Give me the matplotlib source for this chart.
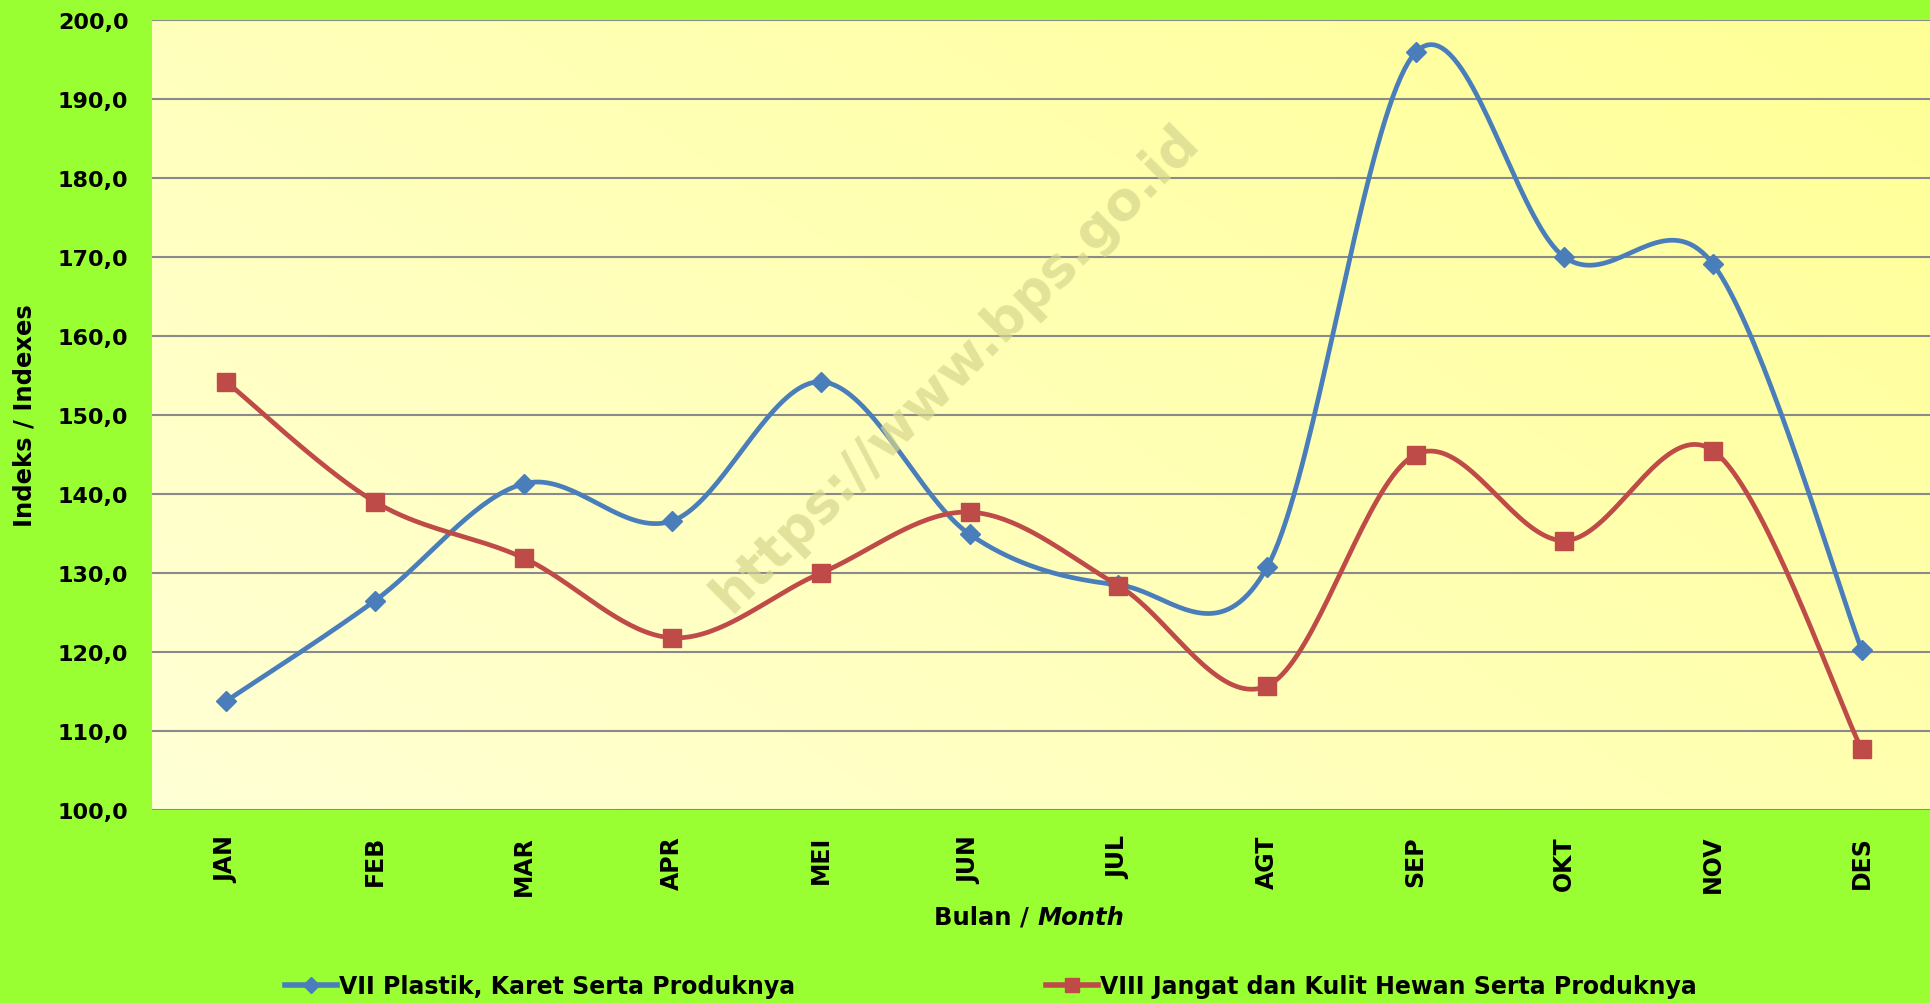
import numpy as np
import matplotlib
matplotlib.use('Agg')
import matplotlib.pyplot as plt
from matplotlib.lines import Line2D

months = ['JAN', 'FEB', 'MAR', 'APR', 'MEI', 'JUN', 'JUL', 'AGT', 'SEP', 'OKT', 'NOV', 'DES']
plastik = [113.8, 126.5, 141.3, 136.6, 154.2, 134.9, 128.5, 130.7, 195.9, 170.0, 169.1, 120.3]
jangat = [154.2, 139.0, 131.9, 121.8, 130.0, 137.7, 128.4, 115.7, 145.0, 134.1, 145.5, 107.7]
yticks = [100, 110, 120, 130, 140, 150, 160, 170, 180, 190, 200]
ytick_labels = ['100,0', '110,0', '120,0', '130,0', '140,0', '150,0',
                '160,0', '170,0', '180,0', '190,0', '200,0']
series_names = ['VII Plastik, Karet Serta Produknya',
                'VIII Jangat dan Kulit Hewan Serta Produknya']
xlabel_main = 'Bulan /'
xlabel_italic = 'Month'
ylabel = 'Indeks / Indexes'
watermark = 'https://www.bps.go.id'

BLUE = '#4a7ebb'
RED = '#be4b48'
GREEN = '#99ff33'

plt.rcParams['font.family'] = ['DejaVu Sans']


def smooth(xv, yv, n=40):
    x = np.asarray(xv, float)
    y = np.asarray(yv, float)
    px = np.concatenate([[x[0]], x, [x[-1]]])
    py = np.concatenate([[y[0]], y, [y[-1]]])
    t = np.linspace(0, 1, n)[:, None]
    out = []
    for i in range(len(x) - 1):
        p0 = np.array([px[i], py[i]])
        p1 = np.array([px[i + 1], py[i + 1]])
        p2 = np.array([px[i + 2], py[i + 2]])
        p3 = np.array([px[i + 3], py[i + 3]])
        c1 = p1 + (p2 - p0) / 6.0
        c2 = p2 - (p3 - p1) / 6.0
        seg = ((1 - t) ** 3) * p1 + 3 * ((1 - t) ** 2) * t * c1 + 3 * (1 - t) * t ** 2 * c2 + t ** 3 * p2
        out.append(seg if i == 0 else seg[1:])
    pts = np.vstack(out)
    return pts[:, 0], pts[:, 1]


W, H = 1930, 1004
fig = plt.figure(figsize=(W / 100, H / 100), dpi=100)
fig.patch.set_facecolor(GREEN)

left, right, top, bottom = 152, 1936, 21, 811
ax = fig.add_axes([left / W, 1 - bottom / H, (right - left) / W, (bottom - top) / H])

x = np.arange(len(months))
ax.set_xlim(-0.5, len(months) - 0.5)
ax.set_ylim(100, 200)

# gradient background
gx = np.linspace(0, 1, 300)[None, :]
gy = np.linspace(1, 0, 120)[:, None]
tt = np.clip((gx * 0.6 + gy * 0.4), 0, 1)
c0 = np.array([255, 255, 214]) / 255.0
c1 = np.array([255, 255, 150]) / 255.0
img = c0[None, None, :] * (1 - tt[..., None]) + c1[None, None, :] * tt[..., None]
ax.imshow(img, extent=(-0.5, len(months) - 0.5, 100, 200), aspect='auto', zorder=0,
          interpolation='bilinear')

ax.set_axisbelow(True)
ax.yaxis.grid(True, color='#8a8a8a', lw=1.5, zorder=0.5)
ax.xaxis.grid(False)
for s in ax.spines.values():
    s.set_visible(False)

ax.set_yticks(yticks)
ax.set_yticklabels(ytick_labels, fontsize=16, fontweight='bold')
ax.set_xticks(x)
ax.set_xticklabels(months, fontsize=17, fontweight='bold', rotation=90)
ax.tick_params(axis='y', length=0, pad=17)
ax.tick_params(axis='x', length=0, pad=18)

# watermark
fig.text(955 / W, 1 - 368 / H, watermark, fontsize=38.5, fontweight='bold', color='#d6d68e',
         alpha=0.7, rotation=45, ha='center', va='center', zorder=1)

sx, sy = smooth(x, plastik)
ax.plot(sx, sy, color=BLUE, lw=3.4, zorder=3, solid_capstyle='round')
ax.plot(x, plastik, ls='none', marker='D', ms=10, color=BLUE, zorder=4)
sx, sy = smooth(x, jangat)
ax.plot(sx, sy, color=RED, lw=3.4, zorder=3, solid_capstyle='round')
ax.plot(x, jangat, ls='none', marker='s', ms=12.5, color=RED, zorder=4)

# axis labels
fig.text(25 / W, 1 - 416 / H, ylabel, rotation=90, fontsize=17.5, fontweight='bold',
         ha='center', va='center')
fig.text(1029 / W, 1 - 918 / H, xlabel_main, fontsize=17.5, fontweight='bold', ha='right', va='center')
fig.text(1037 / W, 1 - 918 / H, xlabel_italic, fontsize=17.5, fontweight='bold', style='italic',
         ha='left', va='center')

# legend
h1 = Line2D([], [], color=BLUE, lw=4, marker='D', ms=8)
h2 = Line2D([], [], color=RED, lw=4, marker='s', ms=10)
fig.legend([h1], [series_names[0]], loc='center left', bbox_to_anchor=(285 / W, 1 - 987 / H),
           frameon=False, prop={'weight': 'bold', 'size': 17}, handlelength=2.2,
           handletextpad=0.1, borderpad=0, borderaxespad=0, numpoints=1)
fig.legend([h2], [series_names[1]], loc='center left', bbox_to_anchor=(1046 / W, 1 - 987 / H),
           frameon=False, prop={'weight': 'bold', 'size': 17}, handlelength=2.2,
           handletextpad=0.1, borderpad=0, borderaxespad=0, numpoints=1)

fig.savefig('out.png', dpi=100, facecolor=GREEN)
